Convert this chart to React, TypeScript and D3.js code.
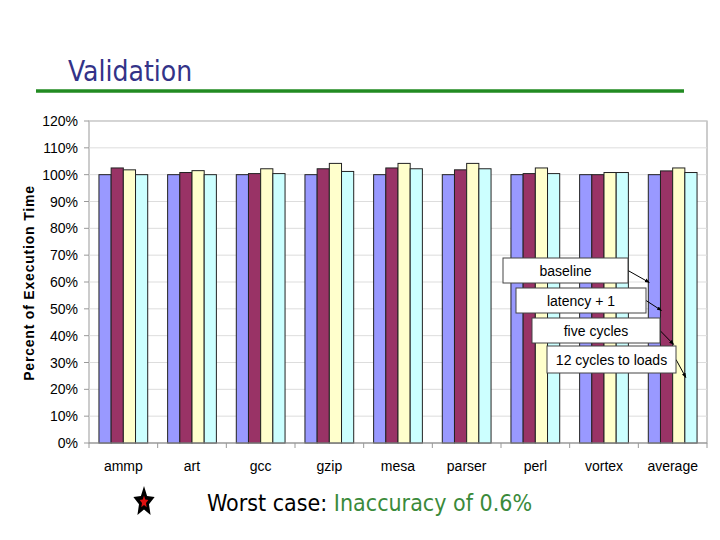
import * as d3 from 'd3';
import React from 'react';

const categories = ['ammp', 'art', 'gcc', 'gzip', 'mesa', 'parser', 'perl', 'vortex', 'average'];
const seriesNames = ['baseline', 'latency + 1', 'five cycles', '12 cycles to loads'];
const baseline = [100, 100, 100, 100, 100, 100, 100, 100, 100];
const latency1 = [102.5, 100.8, 100.4, 102.2, 102.5, 101.8, 100.4, 100, 101.4];
const fiveCycles = [101.8, 101.5, 102.2, 104.2, 104.2, 104.2, 102.5, 100.8, 102.5];
const twelveCycles = [100, 100, 100.4, 101.2, 102.2, 102.2, 100.4, 100.8, 100.8];
const yTicks = [0, 10, 20, 30, 40, 50, 60, 70, 80, 90, 100, 110, 120];

const colors = ['#9999ff', '#993366', '#ffffcc', '#ccffff'];

// 5 pointed star path, outer/inner radius
function starPath(r1: number, r2: number) {
  const pts: [number, number][] = d3.range(10).map(i => {
    const a = (i * Math.PI) / 5;
    const r = i % 2 ? r2 : r1;
    return [a, r];
  });
  return d3.lineRadial().curve(d3.curveLinearClosed)(pts) as string;
}

export default function App() {
  const series = [baseline, latency1, fiveCycles, twelveCycles];
  const plot = {left: 89, right: 707, top: 121, bottom: 443};

  const x = d3.scaleBand().domain(categories).range([plot.left, plot.right]).paddingInner(0.29).paddingOuter(0.145);
  const xs = d3.scaleBand().domain(seriesNames).range([0, x.bandwidth()]);
  const y = d3.scaleLinear().domain([0, 120]).range([plot.bottom, plot.top]);
  const step = x.step();

  // legend callout boxes, each pointing at a bar in the last group
  const last = categories[categories.length - 1];
  const boxes = [
    {x: 503, y: 258, w: 125, h: 25, dy: 12},
    {x: 516, y: 288, w: 130, h: 25, dy: 10},
    {x: 532, y: 318, w: 128, h: 25, dy: 14},
    {x: 547, y: 346, w: 129, h: 27, dy: 18},
  ];

  return (
    <svg width={720} height={540} style={{position: 'absolute', left: 0, top: 0, background: '#fff'}}>
      <defs>
        <marker id="ah" viewBox="0 0 10 10" refX="9" refY="5" markerWidth="5" markerHeight="5" orient="auto">
          <path d="M0,1 L10,5 L0,9 z" fill="#000" />
        </marker>
      </defs>
      <text x={68} y={81} fontFamily="DejaVu Sans Condensed, DejaVu Sans" fontSize={28} fill="#333388">Validation</text>
      <line x1={36} x2={684} y1={91} y2={91} stroke="#228b22" strokeWidth={3.5} />

      <rect x={plot.left} y={plot.top} width={plot.right - plot.left} height={plot.bottom - plot.top} fill="#fff" stroke="#999" strokeWidth={1} />
      {yTicks.slice(1).map(t => (
        <line key={'g' + t} x1={plot.left} x2={plot.right} y1={y(t)} y2={y(t)} stroke="#ddd" strokeWidth={1} />
      ))}
      {yTicks.map(t => (
        <g key={'t' + t}>
          <line x1={plot.left - 5} x2={plot.left} y1={y(t)} y2={y(t)} stroke="#999" />
          <text x={78} y={y(t) + 5} textAnchor="end" fontFamily="Liberation Sans, Arial" fontSize={14} fill="#000">{t}%</text>
        </g>
      ))}
      {categories.map((c, i) => (
        <line key={'xt' + i} x1={plot.left + i * step} x2={plot.left + i * step} y1={plot.bottom} y2={plot.bottom + 5} stroke="#999" />
      ))}
      <line x1={plot.right} x2={plot.right} y1={plot.bottom} y2={plot.bottom + 5} stroke="#999" />

      {categories.map((c, i) => (
        <g key={c} transform={`translate(${x(c)},0)`}>
          {series.map((s, j) => (
            <rect key={j} x={xs(seriesNames[j])} y={y(s[i])} width={xs.bandwidth()} height={y(0) - y(s[i])}
              fill={colors[j]} stroke="#222" strokeWidth={1} />
          ))}
          <text x={x.bandwidth() / 2} y={471} textAnchor="middle" fontFamily="Liberation Sans, Arial" fontSize={14} fill="#000">{c}</text>
        </g>
      ))}
      <line x1={plot.left} x2={plot.right} y1={plot.bottom} y2={plot.bottom} stroke="#999" />

      <text transform="translate(34,283) rotate(-90)" textAnchor="middle" fontFamily="Liberation Sans, Arial" fontWeight="bold" fontSize={14} letterSpacing={0.8} fill="#000">Percent of Execution Time</text>

      {boxes.map((b, j) => {
        const bx = (x(last) as number) + (xs(seriesNames[j]) as number) + 1;
        const by = b.y + b.h / 2 + b.dy;
        return (
          <g key={'lg' + j}>
            <line x1={b.x + b.w} y1={b.y + b.h / 2} x2={bx} y2={by} stroke="#000" strokeWidth={1} markerEnd="url(#ah)" />
            <rect x={b.x} y={b.y} width={b.w} height={b.h} fill="#fff" stroke="#444" strokeWidth={1} />
            <text x={b.x + b.w / 2} y={b.y + b.h / 2 + 5} textAnchor="middle" fontFamily="Liberation Sans, Arial" fontSize={14} fill="#000">{seriesNames[j]}</text>
          </g>
        );
      })}

      <g transform="translate(144,502) scale(0.7,1)">
        <path d={starPath(16, 7.5)} fill="#000" />
        <path d={starPath(6.5, 3)} fill="#e01010" />
      </g>
      <text x={207} y={511} fontFamily="DejaVu Sans Condensed, DejaVu Sans" fontSize={23} fill="#000">
        <tspan fill="#000">Worst case: </tspan>
        <tspan fill="#3a8a3a">Inaccuracy of 0.6%</tspan>
      </text>
    </svg>
  );
}
